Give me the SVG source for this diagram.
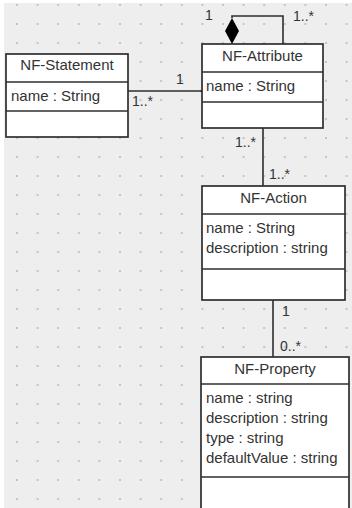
<svg xmlns="http://www.w3.org/2000/svg" width="352" height="508" viewBox="0 0 352 508">
  <defs>
    <pattern id="dots" x="16" y="4" width="20.6" height="19" patternUnits="userSpaceOnUse">
      <rect x="0" y="0" width="2" height="2" fill="#c4c4c4"/>
    </pattern>
    <style>
      .box { fill: #ffffff; stroke: #2e2e2e; stroke-width: 1.7; }
      .sep { stroke: #2e2e2e; stroke-width: 1.5; fill: none; }
      .title { font-family: "Liberation Sans", Arial, sans-serif; font-size: 15px; fill: #333333; text-anchor: middle; }
      .attr { font-family: "Liberation Sans", Arial, sans-serif; font-size: 15px; fill: #333333; }
      .mult { font-family: "Liberation Sans", Arial, sans-serif; font-size: 14px; fill: #333333; }
      .conn { stroke: #2e2e2e; stroke-width: 1.6; fill: none; }
    </style>
  </defs>
  <rect x="0" y="0" width="352" height="508" fill="#ffffff"/>
  <rect x="4" y="3" width="348" height="505" fill="#eeeeee"/>
  <rect x="4" y="3" width="348" height="505" fill="url(#dots)"/>

  <g id="connectors">
    <polyline class="conn" points="232,18 232,16 283,16 283,44"/>
    <polygon points="232,18 239,31 232,44 225,31" fill="#000000"/>
    <line class="conn" x1="128" y1="91" x2="202" y2="91"/>
    <circle cx="202" cy="91" r="1.6" fill="#333333"/>
    <line class="conn" x1="263" y1="128" x2="263" y2="186"/>
    <line class="conn" x1="273" y1="300" x2="273" y2="357"/>
    <text class="mult" x="205" y="20">1</text>
    <text class="mult" x="293" y="21">1..*</text>
    <text class="mult" x="176" y="84">1</text>
    <text class="mult" x="132" y="106">1..*</text>
    <text class="mult" x="235" y="147">1..*</text>
    <text class="mult" x="269" y="179">1..*</text>
    <text class="mult" x="282" y="316">1</text>
    <text class="mult" x="280" y="351">0..*</text>
  </g>

  <g id="nf-statement">
    <rect class="box" x="6" y="54" width="122" height="83"/>
    <line class="sep" x1="6" y1="82" x2="128" y2="82"/>
    <line class="sep" x1="6" y1="111" x2="128" y2="111"/>
    <text class="title" x="67" y="70">NF-Statement</text>
    <text class="attr" x="11" y="101">name : String</text>
  </g>

  <g id="nf-attribute">
    <rect class="box" x="202" y="44" width="121" height="84"/>
    <line class="sep" x1="202" y1="72" x2="323" y2="72"/>
    <line class="sep" x1="202" y1="102" x2="323" y2="102"/>
    <text class="title" x="262.5" y="61">NF-Attribute</text>
    <text class="attr" x="206" y="91">name : String</text>
  </g>

  <g id="nf-action">
    <rect class="box" x="202" y="186" width="143" height="114"/>
    <line class="sep" x1="202" y1="214" x2="345" y2="214"/>
    <line class="sep" x1="202" y1="269" x2="345" y2="269"/>
    <text class="title" x="273.5" y="203">NF-Action</text>
    <text class="attr" x="206" y="233">name : String</text>
    <text class="attr" x="206" y="253">description : string</text>
  </g>

  <g id="nf-property">
    <rect class="box" x="201" y="357" width="148" height="160"/>
    <line class="sep" x1="201" y1="384" x2="349" y2="384"/>
    <line class="sep" x1="201" y1="477" x2="349" y2="477"/>
    <text class="title" x="275" y="374">NF-Property</text>
    <text class="attr" x="206" y="403">name : string</text>
    <text class="attr" x="206" y="423">description : string</text>
    <text class="attr" x="206" y="443">type : string</text>
    <text class="attr" x="206" y="463">defaultValue : string</text>
  </g>
</svg>
